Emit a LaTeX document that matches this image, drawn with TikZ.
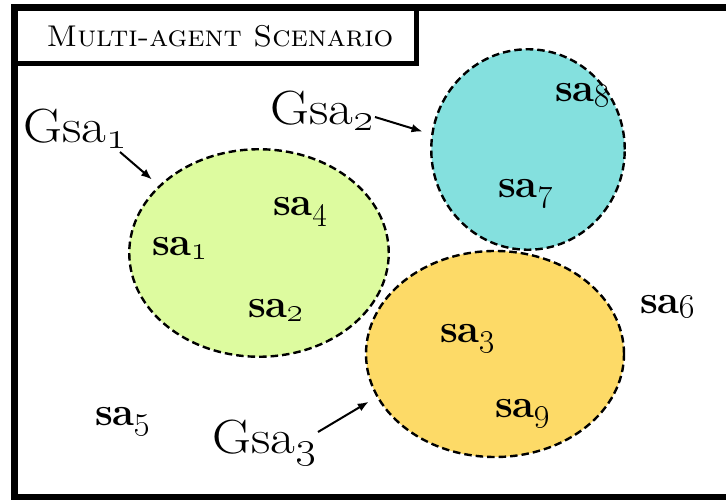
\RequirePackage{fix-cm}
\documentclass[tikz,border=0pt]{standalone}
\usetikzlibrary{shapes.geometric,arrows.meta}

\definecolor{groupgreen}{RGB}{221,251,159}
\definecolor{groupcyan}{RGB}{132,224,222}
\definecolor{groupyellow}{RGB}{253,218,103}

% index digits: old-style figures, slightly smaller and lowered
\newcommand\agentidx[1]{{\mdseries\raisebox{-0.12em}{\scalebox{0.82}{\oldstylenums{#1}}}}}

\begin{document}
\begin{tikzpicture}[x=1pt,y=-1pt,
  group/.style={ellipse, draw=black, line width=2.4pt, dash pattern=on 7.5pt off 4pt, inner sep=0pt},
  agent/.style={anchor=base west, inner sep=0pt, font=\fontsize{40}{42}\selectfont\bfseries},
  grouplabel/.style={anchor=base west, inner sep=0pt, xscale=1.12, font=\fontsize{48}{50}\selectfont},
  pointer/.style={-{Latex[length=11pt,width=8.5pt]}, line width=2pt, shorten >=9pt}]
\useasboundingbox (0,0) rectangle (726,500);

% outer frame, open past the right edge
\begin{scope}
  \clip (0,0) rectangle (726,500);
  \draw[line width=7pt] (14,7.5) rectangle (760,497.5);
\end{scope}

% title box
\draw[line width=5pt] (14,7.5) rectangle (416,64);
\node[anchor=base, inner sep=0pt, xscale=1.03, font=\fontsize{30}{31}\selectfont\scshape] (title) at (220,47) {Multi-agent Scenario};

% groups
\node[group, fill=groupgreen,  minimum width=259.5pt, minimum height=207.5pt] (g1) at (259,253) {};
\node[group, fill=groupcyan,   minimum width=193.5pt, minimum height=200.5pt] (g2) at (528,149.5) {};
\node[group, fill=groupyellow, minimum width=258pt,   minimum height=206pt]   (g3) at (495,354) {};

% group labels
\node[grouplabel] (l1) at (23,143)  {Gsa\agentidx{1}};
\node[grouplabel] (l2) at (270,125) {Gsa\agentidx{2}};
\node[grouplabel] (l3) at (212,453) {Gsa\agentidx{3}};

\coordinate (p1) at (120,152);
\coordinate (p2) at (375,117);
\coordinate (p3) at (318,432);
\draw[pointer] (p1) -- (g1.146);
\draw[pointer] (p2) -- (g2.171);
\draw[pointer] (p3) -- (g3.200);

% agents
\node[agent] (sa1) at (152,255) {sa\agentidx{1}};
\node[agent] (sa4) at (273,215) {sa\agentidx{4}};
\node[agent] (sa2) at (248,317) {sa\agentidx{2}};
\node[agent] (sa8) at (555,102) {sa\agentidx{8}};
\node[agent] (sa7) at (498,197) {sa\agentidx{7}};
\node[agent] (sa3) at (440,342) {sa\agentidx{3}};
\node[agent] (sa9) at (495,417) {sa\agentidx{9}};
\node[agent] (sa5) at (95,425)  {sa\agentidx{5}};
\node[agent] (sa6) at (640,313) {sa\agentidx{6}};
\end{tikzpicture}
\end{document}
